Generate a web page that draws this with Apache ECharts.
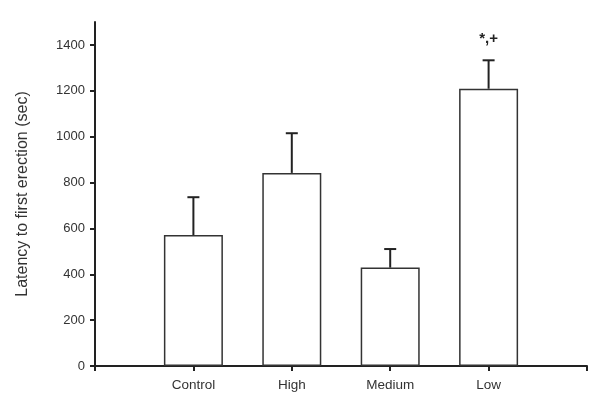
<!DOCTYPE html>
<html>
<head>
<meta charset="utf-8">
<style type="text/css">
html, body{margin: 0; padding: 0; background: #fff}
#chart{width: 601px; height: 403px}
</style>
<script src="https://cdn.jsdelivr.net/npm/echarts@6/dist/echarts.min.js"></script>
</head>
<body>
<div id="chart"></div>
<script type="text/javascript">
// groups, padded with empty slots at each end like the original figure
var categories = ['', 'Control', 'High', 'Medium', 'Low', ''];
var means = [null, 571, 842, 429, 1209, null];
var errTop = [null, 736, 1015, 510, 1333, null];
var marks = ['', '', '', '', '*,+', ''];
var yTicks = [0, 200, 400, 600, 800, 1000, 1200, 1400];

var chart = echarts.init(document.getElementById('chart'));

var errData = [];
for (var i = 0; i < categories.length; i++) {
    if (means[i] != null) errData.push([i, means[i], errTop[i], marks[i]]);
}

var option = {
    animation: false,
    textStyle: {fontFamily: 'Liberation Sans'},
    grid: {left: 95, right: 14, top: 22, bottom: 37},
    xAxis: {
        type: 'category',
        data: categories,
        boundaryGap: false,
        axisLine: {lineStyle: {color: '#222', width: 2}},
        axisTick: {show: true, length: 5, lineStyle: {color: '#222', width: 2}},
        axisLabel: {color: '#333', fontSize: 13.5, margin: 12, interval: 0}
    },
    yAxis: {
        type: 'value',
        min: 0,
        max: 1500,
        name: 'Latency to first erection (sec)',
        nameLocation: 'middle',
        nameGap: 64,
        nameTextStyle: {color: '#333', fontSize: 16},
        splitLine: {show: false},
        axisLine: {show: true, lineStyle: {color: '#222', width: 2}},
        axisTick: {show: true, length: 5, customValues: yTicks, lineStyle: {color: '#222', width: 2}},
        axisLabel: {
            color: '#333', fontSize: 13, margin: 10, customValues: yTicks,
            formatter: function (v) { return String(v); }
        }
    },
    series: [
        {
            type: 'bar',
            data: means,
            barWidth: 59,
            itemStyle: {color: '#fff', borderColor: '#333', borderWidth: 1.5}
        },
        {
            type: 'custom',
            data: errData,
            renderItem: function (params, api) {
                var base = api.coord([api.value(0), api.value(1)]);
                var top = api.coord([api.value(0), api.value(2)]);
                var style = {stroke: '#222', lineWidth: 2};
                var kids = [
                    {type: 'line', shape: {x1: base[0], y1: base[1], x2: top[0], y2: top[1]}, style: style},
                    {type: 'line', shape: {x1: top[0] - 6, y1: top[1], x2: top[0] + 6, y2: top[1]}, style: style}
                ];
                var mark = errData[params.dataIndex][3];
                if (mark) {
                    kids.push({
                        type: 'text',
                        x: top[0],
                        y: top[1] - 14,
                        style: {text: mark, align: 'center', verticalAlign: 'bottom', fill: '#222', font: 'bold 15px Liberation Sans'}
                    });
                }
                return {type: 'group', children: kids};
            },
            z: 3
        }
    ]
};

chart.setOption(option);
</script>
</body>
</html>
